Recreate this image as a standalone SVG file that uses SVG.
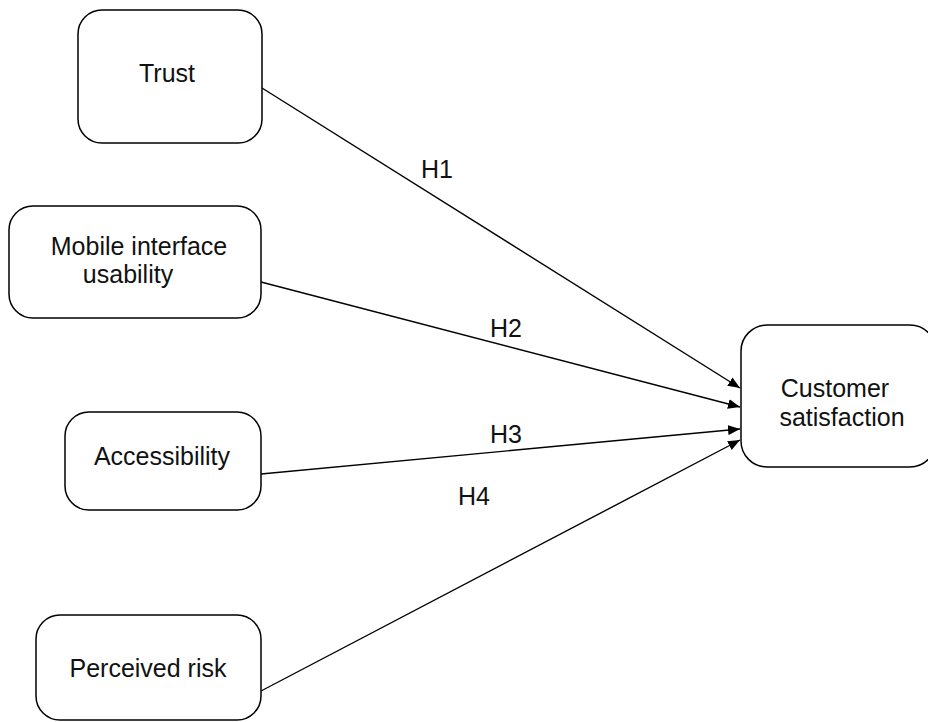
<svg xmlns="http://www.w3.org/2000/svg" width="928" height="722" viewBox="0 0 928 722">
<style>
.box{fill:#fff;stroke:#000;stroke-width:1.5}
.t{font-family:"Liberation Sans",Arial,sans-serif;font-size:25px;fill:#111;text-anchor:middle}
.lb{font-family:"Liberation Sans",Arial,sans-serif;font-size:25px;fill:#111}
.edge{stroke:#000;stroke-width:1.4;fill:none;marker-end:url(#arr)}
</style>
<defs>
<marker id="arr" viewBox="0 0 12 10" refX="12" refY="5" markerWidth="12" markerHeight="10" markerUnits="userSpaceOnUse" orient="auto">
<path d="M0,0 L12,5 L0,10 Z" fill="#000"/>
</marker>
</defs>
<rect width="928" height="722" fill="#fff"/>
<g id="edges">
<line class="edge" x1="262" y1="88" x2="740" y2="388"/>
<line class="edge" x1="261" y1="282" x2="740" y2="407"/>
<line class="edge" x1="261" y1="474" x2="740" y2="429"/>
<line class="edge" x1="261" y1="691" x2="740" y2="440"/>
<text class="lb" x="421" y="178">H1</text>
<text class="lb" x="490" y="337">H2</text>
<text class="lb" x="490" y="443">H3</text>
<text class="lb" x="458" y="505">H4</text>
</g>
<g id="trust">
<rect class="box" x="78" y="10" width="184" height="133" rx="24"/>
<text class="t" x="167" y="82">Trust</text>
</g>
<g id="mobile">
<rect class="box" x="9" y="206" width="252" height="112" rx="24"/>
<text class="t" x="139" y="255">Mobile interface</text>
<text class="t" x="128" y="283">usability</text>
</g>
<g id="accessibility">
<rect class="box" x="65" y="412" width="196" height="98" rx="24"/>
<text class="t" x="162" y="465">Accessibility</text>
</g>
<g id="risk">
<rect class="box" x="36" y="615" width="225" height="105" rx="24"/>
<text class="t" x="148" y="677">Perceived risk</text>
</g>
<g id="customer">
<rect class="box" x="741" y="325" width="195" height="142" rx="26"/>
<text class="t" x="835" y="397">Customer</text>
<text class="t" x="842" y="426">satisfaction</text>
</g>
</svg>
